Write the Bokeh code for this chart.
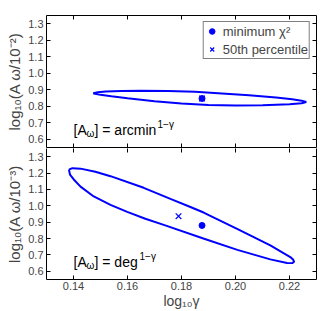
from bokeh.plotting import figure
from bokeh.layouts import column
from bokeh.models import (LinearAxis, Range1d, Label, Legend, LegendItem,
                          FixedTicker, PrintfTickFormatter)
from bokeh.embed import file_html
from bokeh.resources import INLINE

# ---- data ----
x_ticks = [0.14, 0.16, 0.18, 0.20, 0.22]
y_ticks = [0.6, 0.7, 0.8, 0.9, 1.0, 1.1, 1.2, 1.3]

# top panel: [A_w] = arcmin^(1-gamma)  (closed contour)
top_cx = [0.1473, 0.1490, 0.1520, 0.1577, 0.1650, 0.1750, 0.1850, 0.1950, 0.2050,
          0.2150, 0.2210, 0.2245, 0.2262, 0.2245, 0.2200, 0.2100, 0.2000, 0.1900,
          0.1800, 0.1700, 0.1600, 0.1540, 0.1500, 0.1480, 0.1473]
top_cy = [0.879, 0.885, 0.889, 0.892, 0.894, 0.893, 0.888, 0.878, 0.866,
          0.853, 0.843, 0.834, 0.826, 0.818, 0.812, 0.806, 0.804, 0.808,
          0.816, 0.831, 0.848, 0.860, 0.869, 0.875, 0.879]
top_min_x, top_min_y = [0.1876], [0.847]
top_med_x, top_med_y = [0.1876], [0.847]

# bottom panel: [A_w] = deg^(1-gamma)
bot_cx = [0.1383, 0.1396, 0.1426, 0.1481, 0.1537, 0.1660, 0.1759, 0.1833, 0.1882,
          0.2006, 0.2129, 0.2203, 0.2214, 0.2217,
          0.2210, 0.2191, 0.2129, 0.2007, 0.1881, 0.1737, 0.1666, 0.1599,
          0.1537, 0.1475, 0.1426, 0.1401, 0.1387, 0.1383]
bot_cy = [1.221, 1.230, 1.227, 1.208, 1.181, 1.110, 1.042, 0.993, 0.959,
          0.859, 0.758, 0.687, 0.670, 0.657,
          0.650, 0.651, 0.673, 0.731, 0.800, 0.882, 0.921, 0.963,
          1.006, 1.057, 1.117, 1.161, 1.191, 1.221]
bot_min_x, bot_min_y = [0.1876], [0.880]
bot_med_x, bot_med_y = [0.1789], [0.937]

FONT = "Liberation Sans"
BLUE = "#0000ff"


def style_axis(ax, labels=True):
    ax.major_tick_in = 4
    ax.major_tick_out = 0
    ax.minor_tick_in = 0
    ax.minor_tick_out = 0
    ax.axis_line_color = "black"
    ax.major_tick_line_color = "black"
    ax.major_label_text_font = FONT
    ax.axis_label_text_font = FONT
    ax.axis_label_text_font_style = "normal"
    if labels:
        ax.major_label_text_font_size = "11px"
        ax.major_label_standoff = 3
        ax.axis_label_text_font_size = "15px"
        ax.axis_label_standoff = 2
    else:
        ax.major_label_text_color = None
        ax.major_label_text_font_size = "0px"
        ax.major_label_standoff = 0


def make_fig(height, top, bottom, ylabel, xlabel):
    p = figure(width=328, height=height,
               x_range=Range1d(0.13, 0.23), y_range=Range1d(0.55, 1.35),
               output_backend="svg", toolbar_location=None,
               x_axis_location=None, y_axis_location=None,
               min_border_left=46, min_border_right=12,
               min_border_top=top, min_border_bottom=bottom)
    p.grid.visible = False
    p.outline_line_color = None
    p.background_fill_color = "white"
    p.border_fill_color = "white"

    left = LinearAxis(ticker=FixedTicker(ticks=y_ticks),
                      formatter=PrintfTickFormatter(format="%.1f"),
                      axis_label=ylabel)
    style_axis(left)
    p.add_layout(left, "left")

    right = LinearAxis(ticker=FixedTicker(ticks=y_ticks))
    style_axis(right, labels=False)
    p.add_layout(right, "right")

    above = LinearAxis(ticker=FixedTicker(ticks=x_ticks))
    style_axis(above, labels=False)
    p.add_layout(above, "above")

    if xlabel:
        below = LinearAxis(ticker=FixedTicker(ticks=x_ticks),
                           formatter=PrintfTickFormatter(format="%.2f"),
                           axis_label=xlabel)
        style_axis(below)
        below.major_label_standoff = 2
        below.axis_label_standoff = 0
        below.axis_label_text_font_size = "14px"
    else:
        below = LinearAxis(ticker=FixedTicker(ticks=x_ticks))
        style_axis(below, labels=False)
    p.add_layout(below, "below")
    return p, above


def unit_label(p, y, unit):
    parts = [("[A", 0, 0, "14px"), ("ω", 13, -3, "10px"),
             ("] = " + unit, 21, 0, "14px")]
    for txt, dx, dy, fs in parts:
        p.add_layout(Label(x=0.14, y=y, text=txt, x_offset=dx, y_offset=dy,
                           text_font=FONT, text_font_size=fs,
                           text_baseline="alphabetic", text_color="black"))
    w = {"arcmin": 62, "deg": 44}[unit] + 21 + 1
    p.add_layout(Label(x=0.14, y=y, text="1−γ", x_offset=w, y_offset=6,
                       text_font=FONT, text_font_size="10px",
                       text_baseline="alphabetic", text_color="black"))


# ---- top panel ----
p1, _ = make_fig(148, 15, 1, "log₁₀(A ω/10⁻²)", None)
p1.line(top_cx, top_cy, line_color=BLUE, line_width=2)
r_dot = p1.scatter(top_min_x, top_min_y, marker="circle", size=6,
                   fill_color=BLUE, line_color=BLUE)
r_x = p1.scatter(top_med_x, top_med_y, marker="x", size=8,
                 line_color=BLUE, line_width=1.2)
unit_label(p1, 0.655, "arcmin")
legend = Legend(items=[LegendItem(label="minimum χ²", renderers=[r_dot]),
                       LegendItem(label="50th percentile", renderers=[r_x])],
                location="top_right")
legend.label_text_font = FONT
legend.label_text_font_size = "13px"
legend.border_line_color = "black"
legend.border_line_width = 1
legend.background_fill_color = "white"
legend.background_fill_alpha = 1
legend.margin = 6
legend.padding = 1
legend.spacing = 2
legend.glyph_width = 14
legend.glyph_height = 16
legend.label_height = 16
legend.label_standoff = 4
p1.add_layout(legend)

# ---- bottom panel ----
p2, p2_above = make_fig(163, 0, 32, "log₁₀(A ω/10⁻³)", "log₁₀γ")
p2_above.axis_line_color = None
p2.line(bot_cx, bot_cy, line_color=BLUE, line_width=2)
p2.scatter(bot_min_x, bot_min_y, marker="circle", size=6,
           fill_color=BLUE, line_color=BLUE)
p2.scatter(bot_med_x, bot_med_y, marker="x", size=8,
           line_color=BLUE, line_width=1.2)
unit_label(p2, 0.655, "deg")

layout = column(p1, p2, spacing=0)
open("out.html", "w").write(file_html(layout, INLINE))
